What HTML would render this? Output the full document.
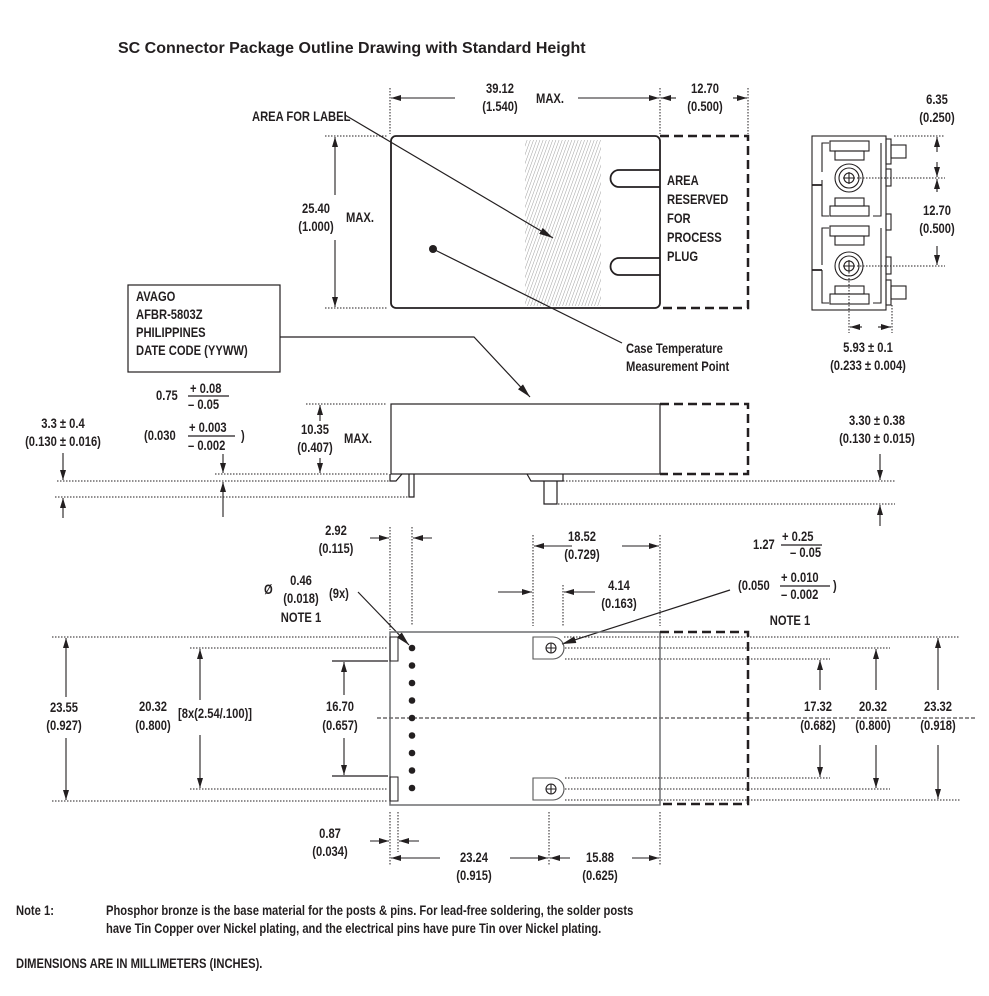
<!DOCTYPE html>
<html><head><meta charset="utf-8"><style>
html,body{margin:0;padding:0;background:#fff}
svg{display:block}
text{font-family:"Liberation Sans",sans-serif;font-weight:bold;font-size:13.5px;fill:#231f20;transform-box:fill-box;transform-origin:0 0;transform:scaleX(.83)}
text.c{text-anchor:middle;transform-origin:50% 0}
text.t{transform:none;font-size:16px}
.ln{stroke:#231f20;stroke-width:1.2;fill:none}
.thk{stroke:#231f20;stroke-width:1.8;fill:none}
.dot{stroke:#231f20;stroke-width:1;stroke-dasharray:1.5 1.5;fill:none}
.dsh{stroke:#231f20;stroke-width:2.5;stroke-dasharray:9 5;fill:none}
.ctr{stroke:#231f20;stroke-width:1;stroke-dasharray:4 2;fill:none}
.dm{stroke:#231f20;stroke-width:1.1;fill:none;marker-end:url(#a)}
</style></head><body>
<svg width="989" height="996" viewBox="0 0 989 996" xmlns="http://www.w3.org/2000/svg">
<defs>
<marker id="a" viewBox="0 0 10 6" refX="10" refY="3" markerWidth="10" markerHeight="6" markerUnits="userSpaceOnUse" orient="auto"><path d="M0,0 L10,3 L0,6 z" fill="#231f20"/></marker>
<marker id="b" viewBox="0 0 14 7" refX="14" refY="3.5" markerWidth="14" markerHeight="7" markerUnits="userSpaceOnUse" orient="auto"><path d="M0,0 L14,3.5 L0,7 z" fill="#231f20"/></marker>
<pattern id="h" width="3" height="3" patternUnits="userSpaceOnUse" patternTransform="rotate(20)"><line x1="0" y1="0" x2="0" y2="3" stroke="#888" stroke-width="0.8"/></pattern>
</defs>

<text class="t" x="118" y="53">SC Connector Package Outline Drawing with Standard Height</text>

<!-- TOP VIEW -->
<line class="dot" x1="390" y1="88" x2="390" y2="134"/>
<line class="dot" x1="660" y1="88" x2="660" y2="134"/>
<line class="dot" x1="748" y1="88" x2="748" y2="134"/>
<line class="dm" x1="455" y1="98" x2="391" y2="98"/>
<line class="dm" x1="578" y1="98" x2="659" y2="98"/>
<line class="dm" x1="676" y1="98" x2="661" y2="98"/>
<line class="dm" x1="733" y1="98" x2="747" y2="98"/>
<text class="c" x="500" y="93">39.12</text><text class="c" x="500" y="111">(1.540)</text><text x="536" y="103">MAX.</text>
<text class="c" x="705" y="93">12.70</text><text class="c" x="705" y="111">(0.500)</text>

<rect x="391" y="136" width="269" height="172" rx="5" class="thk"/>
<rect x="525" y="140" width="76" height="166" fill="url(#h)"/>
<path class="thk" d="M660,170 H619 A8.5,8.5 0 0 0 619,187 H660"/>
<path class="thk" d="M660,258 H619 A8.5,8.5 0 0 0 619,275 H660"/>
<path class="dsh" d="M660,136 H748 V308 H660"/>
<text x="667" y="185">AREA</text><text x="667" y="204">RESERVED</text><text x="667" y="223">FOR</text><text x="667" y="242">PROCESS</text><text x="667" y="261">PLUG</text>

<text x="252" y="121">AREA FOR LABEL</text>
<line class="ln" x1="345" y1="115" x2="553" y2="238" marker-end="url(#b)"/>
<circle cx="433" cy="249" r="4" fill="#231f20"/>
<line class="ln" x1="433" y1="249" x2="622" y2="343"/>
<text x="626" y="353">Case Temperature</text><text x="626" y="371">Measurement Point</text>

<line class="dot" x1="325" y1="136" x2="388" y2="136"/>
<line class="dot" x1="325" y1="308" x2="388" y2="308"/>
<line class="dm" x1="335" y1="195" x2="335" y2="137"/>
<line class="dm" x1="335" y1="240" x2="335" y2="307"/>
<text class="c" x="316" y="213">25.40</text><text class="c" x="316" y="231">(1.000)</text><text x="346" y="222">MAX.</text>

<!-- END VIEW -->
<g class="ln" style="stroke-width:1.1">
<rect x="812" y="136" width="74" height="174"/>
<path d="M822,172 V143 H829 M881,143 V216 H873 M822,180 V216 H829"/>
<rect x="830" y="141" width="39" height="10"/><rect x="835" y="151" width="29" height="9"/>
<rect x="835" y="198" width="29" height="8"/><rect x="830" y="206" width="39" height="10"/>
<path d="M822,265 V228 H829 M881,228 V303 H873 M822,270 V303 H829"/>
<rect x="830" y="226" width="39" height="10"/><rect x="835" y="236" width="29" height="9"/>
<rect x="835" y="286" width="29" height="8"/><rect x="830" y="294" width="39" height="10"/>
<circle cx="849" cy="178" r="14"/><circle cx="849" cy="178" r="10"/><circle cx="849" cy="178" r="5"/>
<path d="M843,178 H855 M849,172 V184"/>
<circle cx="849" cy="266" r="14"/><circle cx="849" cy="266" r="10"/><circle cx="849" cy="266" r="5"/>
<path d="M843,266 H855 M849,260 V272"/>
<rect x="886" y="139" width="5" height="25"/><rect x="891" y="145" width="15" height="13"/>
<rect x="886" y="169" width="5" height="17"/><rect x="886" y="214" width="5" height="16"/>
<rect x="886" y="257" width="5" height="17"/><rect x="886" y="280" width="5" height="25"/><rect x="891" y="286" width="15" height="13"/>
</g>
<path d="M812,185 H822 M812,270 H822" class="thk"/>
<line class="dot" x1="894" y1="136" x2="945" y2="136"/>
<line class="dot" x1="857" y1="178" x2="945" y2="178"/>
<line class="dot" x1="857" y1="266" x2="945" y2="266"/>
<line class="dm" x1="937" y1="152" x2="937" y2="137"/>
<line class="dm" x1="937" y1="162" x2="937" y2="177"/>
<line class="dm" x1="937" y1="192" x2="937" y2="179"/>
<line class="dm" x1="937" y1="246" x2="937" y2="265"/>
<text class="c" x="937" y="104">6.35</text><text class="c" x="937" y="122">(0.250)</text>
<text class="c" x="937" y="215">12.70</text><text class="c" x="937" y="233">(0.500)</text>
<line class="dot" x1="849" y1="266" x2="849" y2="333"/>
<line class="dot" x1="892" y1="305" x2="892" y2="333"/>
<line class="dm" x1="862" y1="327" x2="850" y2="327"/>
<line class="dm" x1="878" y1="327" x2="891" y2="327"/>
<text class="c" x="868" y="352">5.93 ± 0.1</text><text class="c" x="868" y="370">(0.233 ± 0.004)</text>

<!-- LABEL BOX -->
<rect x="128" y="285" width="152" height="87" class="ln"/>
<text x="136" y="301">AVAGO</text><text x="136" y="319">AFBR-5803Z</text><text x="136" y="337">PHILIPPINES</text><text x="136" y="355">DATE CODE (YYWW)</text>
<polyline class="ln" points="280,337 474,337 530,397" marker-end="url(#b)"/>

<!-- SIDE VIEW -->
<rect x="391" y="404" width="269" height="70" class="ln"/>
<path class="dsh" d="M660,404 H748 V474 H660"/>
<path class="ln" d="M390,474 V481 H396 L402,474 M409,474 V497 H414 V474"/>
<path class="ln" d="M527,474 L531,481 H563 V474 M544,481 V504 H557 V481"/>
<line class="dot" x1="306" y1="404" x2="387" y2="404"/>
<line class="dot" x1="215" y1="474" x2="389" y2="474"/>
<line class="dot" x1="57" y1="481" x2="389" y2="481"/>
<line class="dot" x1="563" y1="481" x2="895" y2="481"/>
<line class="dot" x1="55" y1="497" x2="408" y2="497"/>
<line class="dot" x1="558" y1="504" x2="895" y2="504"/>
<line class="dm" x1="320" y1="421" x2="320" y2="405"/>
<line class="dm" x1="320" y1="458" x2="320" y2="473"/>
<text class="c" x="315" y="434">10.35</text><text class="c" x="315" y="452">(0.407)</text><text x="344" y="443">MAX.</text>
<line class="dm" x1="63" y1="453" x2="63" y2="480"/>
<line class="dm" x1="63" y1="518" x2="63" y2="498"/>
<text class="c" x="63" y="428">3.3 ± 0.4</text><text class="c" x="63" y="446">(0.130 ± 0.016)</text>
<line class="dm" x1="223" y1="454" x2="223" y2="473"/>
<line class="dm" x1="223" y1="517" x2="223" y2="482"/>
<text x="156" y="400">0.75</text><text x="190" y="393">+ 0.08</text><line class="ln" x1="188" y1="396" x2="229" y2="396"/><text x="188" y="409">– 0.05</text>
<text x="144" y="440">(0.030</text><text x="189" y="432">+ 0.003</text><line class="ln" x1="188" y1="436" x2="235" y2="436"/><text x="188" y="450">– 0.002</text><text x="241" y="440">)</text>
<line class="dm" x1="880" y1="454" x2="880" y2="480"/>
<line class="dm" x1="880" y1="526" x2="880" y2="505"/>
<text class="c" x="877" y="425">3.30 ± 0.38</text><text class="c" x="877" y="443">(0.130 ± 0.015)</text>

<!-- BOTTOM VIEW DIMS TOP -->
<line class="dot" x1="390" y1="527" x2="390" y2="630"/>
<line class="dot" x1="412" y1="527" x2="412" y2="625"/>
<line class="dm" x1="370" y1="538" x2="389" y2="538"/>
<line class="dm" x1="432" y1="538" x2="413" y2="538"/>
<text class="c" x="336" y="535">2.92</text><text class="c" x="336" y="553">(0.115)</text>
<line class="dot" x1="533" y1="535" x2="533" y2="626"/>
<line class="dot" x1="563" y1="585" x2="563" y2="626"/>
<line class="dot" x1="660" y1="535" x2="660" y2="626"/>
<line class="dm" x1="572" y1="546" x2="534" y2="546"/>
<line class="dm" x1="622" y1="546" x2="659" y2="546"/>
<text class="c" x="582" y="541">18.52</text><text class="c" x="582" y="559">(0.729)</text>
<line class="dm" x1="498" y1="592" x2="532" y2="592"/>
<line class="dm" x1="595" y1="592" x2="564" y2="592"/>
<text class="c" x="619" y="590">4.14</text><text class="c" x="619" y="608">(0.163)</text>
<text x="753" y="549">1.27</text><text x="782" y="541">+ 0.25</text><line class="ln" x1="781" y1="545" x2="822" y2="545"/><text x="790" y="557">– 0.05</text>
<text x="738" y="590">(0.050</text><text x="781" y="582">+ 0.010</text><line class="ln" x1="780" y1="586" x2="830" y2="586"/><text x="781" y="599">– 0.002</text><text x="833" y="590">)</text>
<text class="c" x="790" y="625">NOTE 1</text>
<line class="ln" x1="730" y1="590" x2="562" y2="644" marker-end="url(#b)"/>
<text x="264" y="594">Ø</text>
<text class="c" x="301" y="585">0.46</text><text class="c" x="301" y="603">(0.018)</text><text class="c" x="301" y="622">NOTE 1</text>
<text x="329" y="598">(9x)</text>
<line class="ln" x1="358" y1="592" x2="409" y2="645" marker-end="url(#b)"/>

<!-- BOTTOM VIEW -->
<line class="dot" x1="52" y1="637" x2="388" y2="637"/>
<line class="dot" x1="190" y1="648" x2="388" y2="648"/>
<line class="dot" x1="190" y1="789" x2="388" y2="789"/>
<line class="dot" x1="52" y1="801" x2="388" y2="801"/>
<line class="ln" x1="332" y1="661" x2="388" y2="661"/>
<line class="ln" x1="332" y1="776" x2="388" y2="776"/>
<line class="ctr" x1="377" y1="718" x2="975" y2="718"/>
<rect x="390" y="632" width="270" height="173" fill="none" stroke="#6d6e71" stroke-width="1.5"/>
<path class="dsh" d="M660,632 H748 V804 H660"/>
<rect x="390" y="637" width="8" height="24" class="ln" style="stroke-width:1"/>
<rect x="390" y="777" width="8" height="24" class="ln" style="stroke-width:1"/>
<g fill="#231f20">
<circle cx="412" cy="648" r="3.3"/><circle cx="412" cy="665.5" r="3.3"/><circle cx="412" cy="683" r="3.3"/><circle cx="412" cy="700.5" r="3.3"/><circle cx="412" cy="718" r="3.3"/><circle cx="412" cy="735.5" r="3.3"/><circle cx="412" cy="753" r="3.3"/><circle cx="412" cy="770.5" r="3.3"/><circle cx="412" cy="788" r="3.3"/>
</g>
<g class="ln" style="stroke-width:1.1">
<path d="M533,637 H553 A11,11 0 0 1 553,659 H533 Z" stroke="#555"/>
<circle cx="551" cy="648" r="5"/><path d="M546,648 H556 M551,643 V653"/>
<path d="M533,778 H553 A11,11 0 0 1 553,800 H533 Z" stroke="#555"/>
<circle cx="551" cy="789" r="5"/><path d="M546,789 H556 M551,784 V794"/>
</g>
<line class="dot" x1="564" y1="637" x2="960" y2="637"/>
<line class="dot" x1="565" y1="648" x2="890" y2="648"/>
<line class="dot" x1="565" y1="659" x2="830" y2="659"/>
<line class="dot" x1="565" y1="778" x2="830" y2="778"/>
<line class="dot" x1="565" y1="789" x2="890" y2="789"/>
<line class="dot" x1="565" y1="800" x2="960" y2="800"/>

<line class="dm" x1="66" y1="697" x2="66" y2="638"/>
<line class="dm" x1="66" y1="738" x2="66" y2="800"/>
<text class="c" x="64" y="712">23.55</text><text class="c" x="64" y="730">(0.927)</text>
<line class="dm" x1="200" y1="700" x2="200" y2="649"/>
<line class="dm" x1="200" y1="735" x2="200" y2="788"/>
<text class="c" x="153" y="711">20.32</text><text class="c" x="153" y="730">(0.800)</text>
<text x="178" y="718">[8x(2.54/.100)]</text>
<line class="dm" x1="344" y1="695" x2="344" y2="662"/>
<line class="dm" x1="344" y1="738" x2="344" y2="775"/>
<text class="c" x="340" y="711">16.70</text><text class="c" x="340" y="730">(0.657)</text>
<line class="dm" x1="820" y1="690" x2="820" y2="660"/>
<line class="dm" x1="820" y1="745" x2="820" y2="777"/>
<text class="c" x="818" y="711">17.32</text><text class="c" x="818" y="730">(0.682)</text>
<line class="dm" x1="876" y1="690" x2="876" y2="649"/>
<line class="dm" x1="876" y1="745" x2="876" y2="788"/>
<text class="c" x="873" y="711">20.32</text><text class="c" x="873" y="730">(0.800)</text>
<line class="dm" x1="938" y1="690" x2="938" y2="638"/>
<line class="dm" x1="938" y1="745" x2="938" y2="799"/>
<text class="c" x="938" y="711">23.32</text><text class="c" x="938" y="730">(0.918)</text>

<!-- BOTTOM DIMS -->
<line class="dot" x1="390" y1="812" x2="390" y2="866"/>
<line class="dot" x1="398" y1="812" x2="398" y2="852"/>
<line class="dot" x1="549" y1="812" x2="549" y2="866"/>
<line class="dot" x1="660" y1="812" x2="660" y2="866"/>
<line class="dm" x1="370" y1="841" x2="389" y2="841"/>
<line class="dm" x1="419" y1="841" x2="399" y2="841"/>
<text class="c" x="330" y="838">0.87</text><text class="c" x="330" y="856">(0.034)</text>
<line class="dm" x1="440" y1="858" x2="391" y2="858"/>
<line class="dm" x1="510" y1="858" x2="548" y2="858"/>
<text class="c" x="474" y="862">23.24</text><text class="c" x="474" y="880">(0.915)</text>
<line class="dm" x1="570" y1="858" x2="550" y2="858"/>
<line class="dm" x1="632" y1="858" x2="659" y2="858"/>
<text class="c" x="600" y="862">15.88</text><text class="c" x="600" y="880">(0.625)</text>

<text x="16" y="915">Note 1:</text>
<text x="106" y="915">Phosphor bronze is the base material for the posts &amp; pins. For lead-free soldering, the solder posts</text>
<text x="106" y="933">have Tin Copper over Nickel plating, and the electrical pins have pure Tin over Nickel plating.</text>
<text x="16" y="968">DIMENSIONS ARE IN MILLIMETERS (INCHES).</text>
</svg>
</body></html>
